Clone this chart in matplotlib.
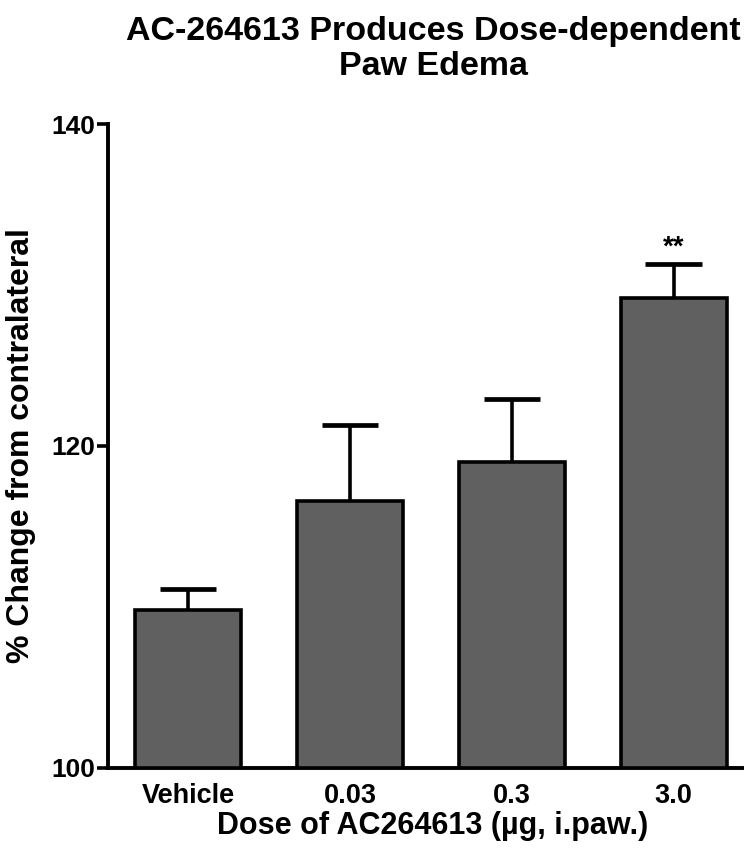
import matplotlib
matplotlib.use("Agg")
import matplotlib.pyplot as plt

categories = ["Vehicle", "0.03", "0.3", "3.0"]
means = [109.8, 116.6, 119.0, 129.2]
sems = [1.3, 4.7, 3.9, 2.1]
yticks = [100, 120, 140]

plt.rcParams['font.family'] = ['Liberation Sans', 'DejaVu Sans']

fig = plt.figure(figsize=(7.44, 8.48), dpi=100)
ax = fig.add_axes([108/744, 1-768/848, 650/744, (768-124)/848])

x = list(range(len(categories)))
tops = [m + s for m, s in zip(means, sems)]
ax.vlines(x, means, tops, color="black", linewidth=2.6, zorder=2)
ax.hlines(tops, [i - 0.175 for i in x], [i + 0.175 for i in x], color="black",
          linewidth=3.4, zorder=2)
ax.bar(x, [m - 100 for m in means], bottom=100, width=0.655, color="#606060",
       edgecolor="black", linewidth=2.6, zorder=3)

ax.text(3, tops[3] + 0.2, "**", ha="center", va="bottom",
        fontsize=20, fontweight="bold")

ax.set_xlim(-0.494, 3.52)
ax.set_ylim(100, 140)
ax.set_yticks(yticks)
ax.set_xticks(x)
ax.set_xticklabels(categories, fontsize=19.5, fontweight="bold")
ax.tick_params(axis="x", length=0, pad=11)
ax.tick_params(axis="y", length=8, width=2.6, labelsize=19, pad=1)
for lab in ax.get_yticklabels():
    lab.set_fontweight("bold")

for s in ["top", "right"]:
    ax.spines[s].set_visible(False)
for s in ["left", "bottom"]:
    ax.spines[s].set_linewidth(2.8)

ax.set_xlabel("Dose of AC264613 (\u00b5g, i.paw.)", fontsize=22, fontweight="bold", labelpad=1)
ax.set_ylabel("% Change from contralateral", fontsize=23, fontweight="bold", labelpad=11)

fig.text(433/744, 1-49/848, "AC-264613 Produces Dose-dependent\nPaw Edema", ha="center",
         va="center", fontsize=24.5, fontweight="bold", linespacing=1.2)

fig.savefig("out.png", dpi=100)
